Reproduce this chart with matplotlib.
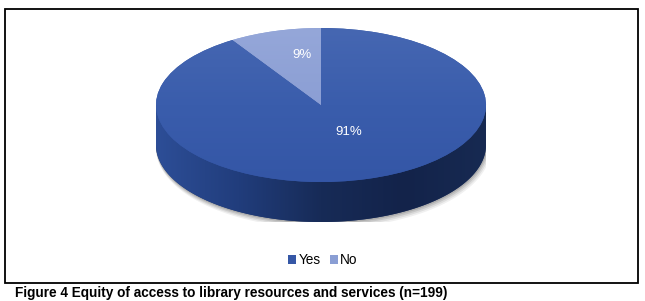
import numpy as np
import matplotlib
matplotlib.use("Agg")
import matplotlib.pyplot as plt
from matplotlib.patches import Rectangle, Polygon
from matplotlib.colors import LinearSegmentedColormap

categories = ["Yes", "No"]
values = [91, 9]
labels_pct = ["91%", "9%"]
title = "Figure 4 Equity of access to library resources and services (n=199)"

W, H = 645, 301
fig = plt.figure(figsize=(W / 100, H / 100), dpi=100)
plt.rcParams['font.family'] = ['Liberation Sans', 'DejaVu Sans']

# outer frame
fig.patches.append(Rectangle((5 / W, 1 - 283 / H), 633 / W, 274 / H,
                             transform=fig.transFigure, fill=False,
                             edgecolor='black', linewidth=1.3))

# pie axes (ellipse box)
d = 40 / 77.0
ax = fig.add_axes([156 / W, (H - 222) / H, 330 / W, 194 / H])
yes_col = '#3557A6'
no_col = '#8A9ED4'
# 'No' sits at upper-left: starts at 12 o'clock going counterclockwise
wedges, _ = ax.pie(values[::-1], colors=[no_col, yes_col], startangle=90,
                   counterclock=True, radius=1.0,
                   wedgeprops=dict(linewidth=0, zorder=5))
no_w, yes_w = wedges
ax.set_aspect('auto')
ax.axis('off')

# shadow
th = np.linspace(np.pi * 0.95, 2.05 * np.pi, 200)
for k, a in [(4, 0.06), (3, 0.08), (2, 0.10), (1, 0.12)]:
    sx = k * 0.6 / 165
    sy = k * 0.8 / 77
    pts = np.column_stack([np.cos(th) * (1 + sx) + sx, np.sin(th) * (1 + sy) - d - sy])
    pts = np.vstack([pts, [[1 + sx, 0], [-1, 0]]])
    ax.add_patch(Polygon(pts, closed=True, facecolor='black', alpha=a,
                         edgecolor='none', zorder=1))

# side of the cylinder
th = np.linspace(np.pi, 2 * np.pi, 300)
side = np.column_stack([np.cos(th), np.sin(th) - d])
side = np.vstack([side, [[1, 0], [-1, 0]]])
side_patch = Polygon(side, closed=True, facecolor='#1E3569', edgecolor='none', zorder=2)
ax.add_patch(side_patch)
side_cmap = LinearSegmentedColormap.from_list('side', ['#2D4E97', '#213D7C', '#172B57', '#13234A', '#172A52'])
grad = np.linspace(0, 1, 256).reshape(1, -1)
im = ax.imshow(grad, cmap=side_cmap, extent=[-1, 1, -1 - d, 0], aspect='auto', zorder=3)
im.set_clip_path(side_patch)

# top face gradients
top_cmap = LinearSegmentedColormap.from_list('top', ['#3456A6', '#3A5DAC', '#4667B2'])
gv = np.linspace(0, 1, 256).reshape(-1, 1)
im2 = ax.imshow(gv, cmap=top_cmap, extent=[-1, 1, -1, 1], origin='lower', aspect='auto', zorder=6)
im2.set_clip_path(yes_w)
no_cmap = LinearSegmentedColormap.from_list('no', ['#8196CF', '#95A7D9'])
im3 = ax.imshow(gv, cmap=no_cmap, extent=[-1, 1, -1, 1], origin='lower', aspect='auto', zorder=6)
im3.set_clip_path(no_w)
ax.set_xlim(-1, 1)
ax.set_ylim(-1 - d, 1)

# percentage labels
dist = {"No": 0.70, "Yes": 0.36}
for w, cat, lab in zip(wedges, categories[::-1], labels_pct[::-1]):
    ang = np.deg2rad((w.theta1 + w.theta2) / 2)
    r = dist[cat]
    ax.text(r * np.cos(ang) + (0.08 if cat == "No" else 0.07), r * np.sin(ang) + (-0.02 if cat == "No" else 0.0),
            lab, color='white', fontsize=9.5, ha='center', va='center', zorder=10)

# legend
leg = fig.legend([yes_w, no_w], categories, loc='center',
                 bbox_to_anchor=(323 / W, 1 - 260 / H), ncol=2, frameon=False,
                 fontsize=9.8, handlelength=0.6, handleheight=0.6,
                 handletextpad=0.15, columnspacing=0.7, borderpad=0)

# caption
fig.text(15 / W, 1 - 293 / H, title, fontsize=9.8, fontweight='bold',
         family=['Liberation Sans Narrow', 'Liberation Sans', 'DejaVu Sans'],
         ha='left', va='center')

fig.savefig('out.png', dpi=100)
